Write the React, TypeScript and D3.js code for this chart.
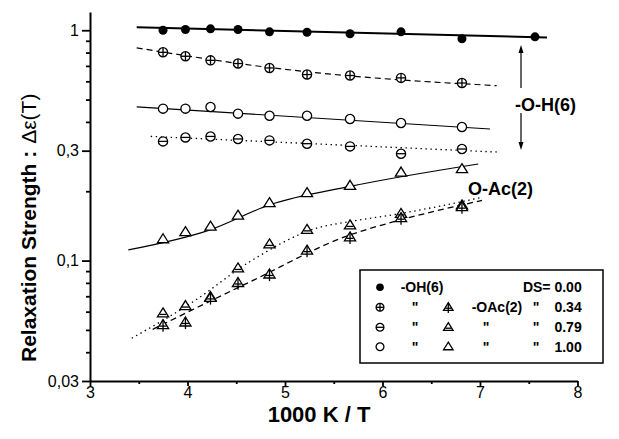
import React, { useEffect, useRef } from 'react';
import * as d3 from 'd3';

// temperatures (1000 K / T) where all samples were measured
const xMeas = [3.749, 3.979, 4.236, 4.518, 4.841, 5.226, 5.667, 6.19, 6.815];
const xOH = [3.749, 3.979, 4.236, 4.518, 4.841, 5.226, 5.667, 6.19, 6.815, 7.564];

// -O-H(6) process
const oh000 = [1.0, 1.007, 1.014, 1.007, 0.984, 0.98, 0.965, 0.984, 0.918, 0.936];
const oh034 = [0.802, 0.771, 0.74, 0.717, 0.686, 0.642, 0.636, 0.621, 0.59];
const oh079 = [0.3292, 0.3425, 0.3459, 0.3372, 0.3325, 0.3217, 0.3131, 0.291, 0.305];
const oh100 = [0.4566, 0.4566, 0.4645, 0.4344, 0.4256, 0.4256, 0.4118, 0.3958, 0.38];

// -OAc(2) process
const ac034 = [0.0525, 0.0539, 0.0689, 0.08, 0.0871, 0.1105, 0.1262, 0.1529, 0.1707];
const ac079 = [0.059, 0.0635, 0.0695, 0.0925, 0.1176, 0.136, 0.1422, 0.1596, 0.1738];
const ac100 = [0.1239, 0.1329, 0.1405, 0.1569, 0.1777, 0.1963, 0.2113, 0.2413, 0.2496];

// guide lines through the data
const fitOH000: [number, number][] = [[3.479, 1.03], [7.687, 0.93]];
const fitOH034: [number, number][] = [[3.479, 0.8386], [4.846, 0.6884], [5.667, 0.6335], [7.171, 0.5747]];
const fitOH079: [number, number][] = [[3.623, 0.3459], [7.171, 0.296]];
const fitOH100: [number, number][] = [[3.479, 0.4645], [7.103, 0.3726]];
const fitAc034: [number, number][] = [[3.643, 0.0503], [4.641, 0.0808], [5.667, 0.1293], [6.19, 0.1503], [7.021, 0.1824]];
const fitAc079: [number, number][] = [[3.428, 0.046], [4.059, 0.0663], [4.641, 0.099], [5.325, 0.1383], [5.667, 0.1477], [6.213, 0.1608], [7.0, 0.1873]];
const fitAc100: [number, number][] = [[3.393, 0.1113], [4.231, 0.136], [4.846, 0.1747], [5.667, 0.2098], [6.982, 0.2625]];

const xTicks = [3, 4, 5, 6, 7, 8];
const xMinor = [3.5, 4.5, 5.5, 6.5, 7.5];
const yTicks = [1, 0.3, 0.1, 0.03];
const yTickLabels = ['1', '0,3', '0,1', '0,03'];
const yMinor = [0.04, 0.05, 0.06, 0.07, 0.08, 0.09, 0.2, 0.4, 0.5, 0.6, 0.7, 0.8, 0.9];

const FONT = "'Liberation Sans', Arial, sans-serif";

type Sym = 'dot' | 'cplus' | 'cminus' | 'circle' | 'tcross' | 'tbar' | 'tri';

const drawSymbol = (g: any, kind: Sym, s = 1) => {
  const sw = 1.3;
  if (kind === 'dot') {
    g.append('circle').attr('r', 4.5 * s).attr('fill', '#000');
    return;
  }
  if (kind === 'cplus' || kind === 'cminus' || kind === 'circle') {
    const r = 4.6 * s;
    g.append('circle').attr('r', r).attr('fill', 'white').attr('stroke', '#000').attr('stroke-width', sw);
    if (kind !== 'circle') {
      g.append('line').attr('x1', -r).attr('x2', r).attr('y1', 0).attr('y2', 0)
        .attr('stroke', '#000').attr('stroke-width', sw);
    }
    if (kind === 'cplus') {
      g.append('line').attr('x1', 0).attr('x2', 0).attr('y1', -r).attr('y2', r)
        .attr('stroke', '#000').attr('stroke-width', sw);
    }
    return;
  }
  const a = 5.6 * s;
  const h = 9 * s;
  g.append('path')
    .attr('d', `M0,${-h * 0.6}L${a},${h * 0.4}L${-a},${h * 0.4}Z`)
    .attr('fill', 'white').attr('stroke', '#000').attr('stroke-width', sw);
  if (kind === 'tbar' || kind === 'tcross') {
    g.append('line').attr('x1', -a * 0.62).attr('x2', a * 0.62).attr('y1', h * 0.12).attr('y2', h * 0.12)
      .attr('stroke', '#000').attr('stroke-width', sw);
  }
  if (kind === 'tcross') {
    g.append('line').attr('x1', 0).attr('x2', 0).attr('y1', -h * 0.6).attr('y2', h * 0.75)
      .attr('stroke', '#000').attr('stroke-width', sw);
  }
};

const App = () => {
  const ref = useRef<SVGSVGElement>(null);

  useEffect(() => {
    if (!ref.current) return;
    const svg = d3.select(ref.current);
    svg.selectAll('*').remove();

    const x = d3.scaleLinear().domain([3, 8]).range([90, 577.5]);
    const y = d3.scaleLog().domain([0.03, 1.2]).range([381, 12]);

    // guide lines
    const line = d3.line<[number, number]>()
      .x(d => x(d[0]))
      .y(d => y(d[1]))
      .curve(d3.curveMonotoneX);

    const fits: { d: [number, number][]; dash: string | null; w: number }[] = [
      { d: fitOH000, dash: null, w: 2 },
      { d: fitOH034, dash: '6,4', w: 1.2 },
      { d: fitOH100, dash: null, w: 1.2 },
      { d: fitOH079, dash: '1.4,3.6', w: 1.3 },
      { d: fitAc100, dash: null, w: 1.2 },
      { d: fitAc079, dash: '1.4,3.6', w: 1.3 },
      { d: fitAc034, dash: '6,4', w: 1.3 },
    ];
    fits.forEach(f => {
      svg.append('path')
        .attr('d', line(f.d))
        .attr('fill', 'none')
        .attr('stroke', '#000')
        .attr('stroke-width', f.w)
        .attr('stroke-dasharray', f.dash);
    });

    // markers
    const series: { xs: number[]; ys: number[]; sym: Sym }[] = [
      { xs: xOH, ys: oh000, sym: 'dot' },
      { xs: xMeas, ys: oh034, sym: 'cplus' },
      { xs: xMeas, ys: oh100, sym: 'circle' },
      { xs: xMeas, ys: oh079, sym: 'cminus' },
      { xs: xMeas, ys: ac100, sym: 'tri' },
      { xs: xMeas, ys: ac079, sym: 'tbar' },
      { xs: xMeas, ys: ac034, sym: 'tcross' },
    ];
    series.forEach(s => {
      s.ys.forEach((v, i) => {
        const g = svg.append('g').attr('transform', `translate(${x(s.xs[i])},${y(v)})`);
        drawSymbol(g, s.sym);
      });
    });

    // axes
    const xAxis = svg.append('g')
      .attr('transform', `translate(0,${y(0.03)})`)
      .call(d3.axisBottom(x).tickValues(xTicks).tickSize(5).tickSizeOuter(0).tickPadding(0.5)
        .tickFormat(d => String(d)));
    svg.append('g')
      .attr('transform', `translate(0,${y(0.03)})`)
      .call(d3.axisBottom(x).tickValues(xMinor).tickSize(3).tickSizeOuter(0).tickFormat(() => ''))
      .select('.domain').remove();

    const yAxis = svg.append('g')
      .attr('transform', `translate(${x(3)},0)`)
      .call(d3.axisLeft(y).tickValues(yTicks).tickSize(8).tickSizeOuter(0).tickPadding(3)
        .tickFormat((d, i) => yTickLabels[i]));
    svg.append('g')
      .attr('transform', `translate(${x(3)},0)`)
      .call(d3.axisLeft(y).tickValues(yMinor).tickSize(4).tickSizeOuter(0).tickFormat(() => ''))
      .select('.domain').remove();

    svg.selectAll('.domain').attr('stroke-width', 2);
    svg.selectAll('.tick line').attr('stroke-width', 1.8);
    [xAxis, yAxis].forEach(a => a.selectAll('text')
      .attr('font-family', FONT).attr('font-size', 16).attr('fill', '#000'));

    // axis titles
    svg.append('text')
      .attr('x', 319).attr('y', 421.5)
      .attr('text-anchor', 'middle')
      .attr('font-family', FONT).attr('font-size', 22).attr('font-weight', 'bold')
      .text('1000 K / T');

    const yt = svg.append('text')
      .attr('transform', 'translate(36,362) rotate(-90)')
      .attr('font-family', FONT).attr('font-size', 21);
    yt.append('tspan').attr('font-weight', 'bold').text('Relaxation Strength :');
    yt.append('tspan').attr('dx', 7).text('Δε(T)');

    // annotations
    svg.append('text')
      .attr('x', 515).attr('y', 110.5)
      .attr('font-family', FONT).attr('font-size', 18).attr('font-weight', 'bold')
      .text('-O-H(6)');
    svg.append('text')
      .attr('x', 468).attr('y', 194.5)
      .attr('font-family', FONT).attr('font-size', 18).attr('font-weight', 'bold')
      .text('O-Ac(2)');

    const arrow = (y1: number, y2: number) => {
      const dir = Math.sign(y2 - y1);
      svg.append('line').attr('x1', 521).attr('x2', 521).attr('y1', y1).attr('y2', y2 - dir * 6)
        .attr('stroke', '#000').attr('stroke-width', 1.2);
      svg.append('path')
        .attr('d', `M521,${y2}L518.5,${y2 - dir * 8}L523.5,${y2 - dir * 8}Z`)
        .attr('fill', '#000');
    };
    arrow(88, 45);
    arrow(113, 150);

    // legend
    const lg = svg.append('g').attr('font-family', FONT).attr('font-size', 14).attr('font-weight', 'bold');
    lg.append('rect').attr('x', 360).attr('y', 270).attr('width', 243).attr('height', 93)
      .attr('fill', 'white').attr('stroke', '#000').attr('stroke-width', 1.5);
    const rows = [287.3, 307.3, 327.3, 346.7];
    const circSyms: Sym[] = ['dot', 'cplus', 'cminus', 'circle'];
    const triSyms: Sym[] = ['tcross', 'tbar', 'tri'];
    const dsLabels = ['DS= 0.00', '0.34', '0.79', '1.00'];
    rows.forEach((ry, i) => {
      drawSymbol(lg.append('g').attr('transform', `translate(380,${ry})`), circSyms[i], 0.85);
      lg.append('text').attr('x', 581.7).attr('y', ry + 5).attr('text-anchor', 'end').text(dsLabels[i]);
      if (i === 0) {
        lg.append('text').attr('x', 400.7).attr('y', ry + 5).text('-OH(6)');
        return;
      }
      drawSymbol(lg.append('g').attr('transform', `translate(448.3,${ry})`), triSyms[i - 1], 0.85);
      lg.append('text').attr('x', 415).attr('y', ry + 5).attr('text-anchor', 'middle').text('"');
      lg.append('text').attr('x', 536).attr('y', ry + 5).attr('text-anchor', 'middle').text('"');
      if (i === 1) lg.append('text').attr('x', 471.7).attr('y', ry + 5).text('-OAc(2)');
      else lg.append('text').attr('x', 486).attr('y', ry + 5).attr('text-anchor', 'middle').text('"');
    });
  }, []);

  return (
    <svg
      ref={ref}
      width={619}
      height={439}
      style={{ position: 'absolute', left: 0, top: 0, background: 'white' }}
    />
  );
};

export default App;
